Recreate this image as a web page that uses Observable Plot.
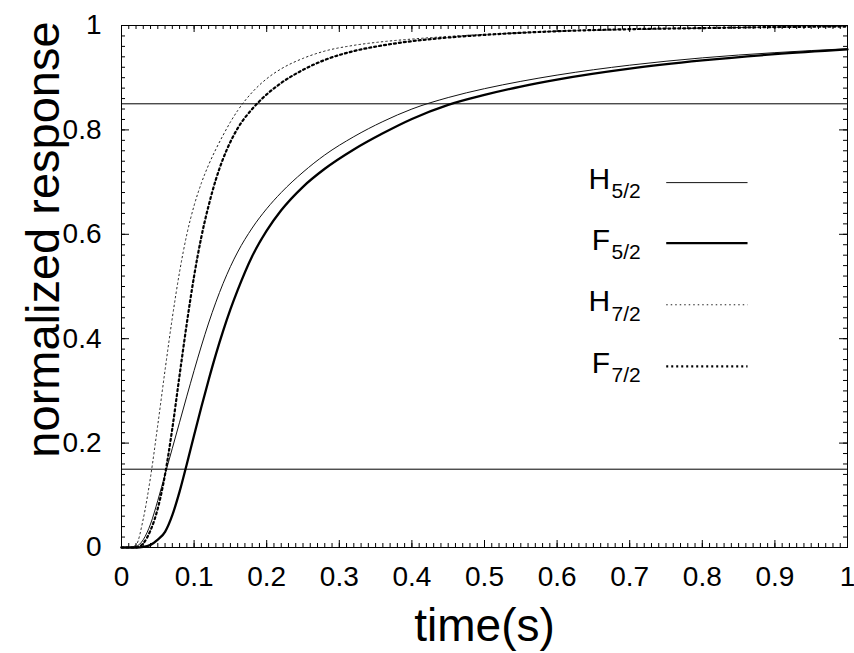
<!DOCTYPE html>
<html>
<head>
<meta charset="utf-8">
<script src="https://cdn.jsdelivr.net/npm/d3@7"></script>
<script src="https://cdn.jsdelivr.net/npm/@observablehq/plot@0.6"></script>
<style>
  html, body { margin: 0; padding: 0; background: #fff; }
  #chart svg { display: block; }
</style>
</head>
<body>
<div id="chart"></div>
<script>
// ---- data ----
const time = [0, 0.01, 0.02, 0.03, 0.04, 0.05, 0.06, 0.07, 0.08, 0.09, 0.10, 0.11, 0.12, 0.13, 0.14, 0.15, 0.16, 0.18, 0.20, 0.22, 0.25, 0.28, 0.32, 0.36, 0.40, 0.45, 0.50, 0.55, 0.60, 0.70, 0.80, 0.90, 1.00];
const H52 = [0, 0, 0.002, 0.015, 0.045, 0.09, 0.14, 0.19, 0.24, 0.29, 0.339, 0.386, 0.43, 0.47, 0.506, 0.538, 0.566, 0.612, 0.649, 0.68, 0.719, 0.752, 0.787, 0.816, 0.84, 0.862, 0.879, 0.893, 0.905, 0.924, 0.938, 0.948, 0.9555];
const F52 = [0, 0, 0, 0.001, 0.005, 0.015, 0.03, 0.062, 0.107, 0.16, 0.215, 0.269, 0.321, 0.37, 0.415, 0.456, 0.493, 0.558, 0.607, 0.646, 0.691, 0.7255, 0.7625, 0.7935, 0.821, 0.848, 0.867, 0.883, 0.8965, 0.9175, 0.933, 0.945, 0.9542];
const H72 = [0, 0, 0.005, 0.055, 0.135, 0.235, 0.34, 0.44, 0.528, 0.60, 0.655, 0.698, 0.733, 0.763, 0.79, 0.815, 0.837, 0.872, 0.898, 0.917, 0.937, 0.951, 0.962, 0.969, 0.974, 0.979, 0.983, 0.986, 0.989, 0.992, 0.995, 0.997, 0.998];
const F72 = [0, 0, 0, 0.008, 0.033, 0.075, 0.14, 0.228, 0.33, 0.43, 0.52, 0.595, 0.655, 0.705, 0.745, 0.777, 0.803, 0.84, 0.868, 0.89, 0.915, 0.934, 0.951, 0.962, 0.97, 0.977, 0.982, 0.986, 0.989, 0.993, 0.995, 0.997, 0.998];
const thresholds = [0.15, 0.85];
const seriesMain = ["H", "F", "H", "F"];
const seriesSub = ["5/2", "5/2", "7/2", "7/2"];
const seriesValues = [H52, F52, H72, F72];
const xTicks = [0, 0.1, 0.2, 0.3, 0.4, 0.5, 0.6, 0.7, 0.8, 0.9, 1];
const yTicks = [0, 0.2, 0.4, 0.6, 0.8, 1];

// ---- styles / layout ----
const styles = [
  {stroke: "#111", strokeWidth: 1, strokeDasharray: null},
  {stroke: "#000", strokeWidth: 2.3, strokeDasharray: null},
  {stroke: "#222", strokeWidth: 1, strokeDasharray: "1.5,3"},
  {stroke: "#000", strokeWidth: 2.2, strokeDasharray: "2,3"}
];
const legendY = [0.699, 0.583, 0.465, 0.347];
const legendLineX = [0.751, 0.863];
const legendTextX = 0.673;

const W = 854, H = 653;
const mL = 121, mR = 7, mT = 25, mB = 106;
const frameW = W - mL - mR, frameH = H - mT - mB;

const minorX = d3.range(0, 101).map(i => i / 100);
const minorY = d3.range(0, 51).map(i => i / 50);

const marks = [];
// threshold lines
marks.push(Plot.ruleY(thresholds, {stroke: "#000", strokeWidth: 1}));

// curves + legend
seriesValues.forEach((vals, i) => {
  const rows = time.map((t, j) => ({t, v: vals[j]}));
  const st = styles[i];
  marks.push(Plot.line(rows, {x: "t", y: "v", curve: "monotone-x", ...st}));
  marks.push(Plot.ruleY([legendY[i]], {x1: legendLineX[0], x2: legendLineX[1], ...st}));
  marks.push(Plot.text([legendY[i]], {x: legendTextX, y: d => d, text: () => seriesMain[i], textAnchor: "end", fontSize: 30, dy: -3, fill: "#000"}));
  marks.push(Plot.text([legendY[i]], {x: legendTextX + 0.002, y: d => d, text: () => seriesSub[i], textAnchor: "start", fontSize: 21, dy: 9, fill: "#000"}));
});

// ticks (inward, mirrored)
marks.push(Plot.tickX(minorX, {x: d => d, insetTop: frameH - 4, stroke: "#000"}));
marks.push(Plot.tickX(minorX, {x: d => d, insetBottom: frameH - 4, stroke: "#000"}));
marks.push(Plot.tickX(xTicks, {x: d => d, insetTop: frameH - 7, stroke: "#000"}));
marks.push(Plot.tickX(xTicks, {x: d => d, insetBottom: frameH - 7, stroke: "#000"}));
marks.push(Plot.tickY(minorY, {y: d => d, insetRight: frameW - 4, stroke: "#000"}));
marks.push(Plot.tickY(minorY, {y: d => d, insetLeft: frameW - 4, stroke: "#000"}));
marks.push(Plot.tickY(yTicks, {y: d => d, insetRight: frameW - 8, stroke: "#000"}));
marks.push(Plot.tickY(yTicks, {y: d => d, insetLeft: frameW - 8, stroke: "#000"}));

// tick labels
marks.push(Plot.axisX({ticks: xTicks, tickSize: 0, tickPadding: 19, fontSize: 28, label: null, tickFormat: d => String(d)}));
marks.push(Plot.axisY({ticks: yTicks, tickSize: 0, tickPadding: 20, fontSize: 28, label: null, tickFormat: d => String(d)}));

// axis titles
marks.push(Plot.text(["time(s)"], {frameAnchor: "bottom", textAnchor: "middle", lineAnchor: "middle", dy: 79, fontSize: 46, fill: "#000"}));
marks.push(Plot.text(["normalized response"], {frameAnchor: "left", textAnchor: "middle", lineAnchor: "middle", rotate: -90, dx: -78, dy: -47, fontSize: 47, fill: "#000"}));

marks.push(Plot.frame({stroke: "#000", strokeWidth: 1}));

const chart = Plot.plot({
  width: W,
  height: H,
  marginLeft: mL,
  marginRight: mR,
  marginTop: mT,
  marginBottom: mB,
  x: {domain: [0, 1], axis: null},
  y: {domain: [0, 1], axis: null},
  style: {fontFamily: "'Liberation Sans', Arial, Helvetica, sans-serif", color: "#000", background: "#fff", overflow: "visible"},
  marks
});
document.getElementById("chart").appendChild(chart);
</script>
</body>
</html>
